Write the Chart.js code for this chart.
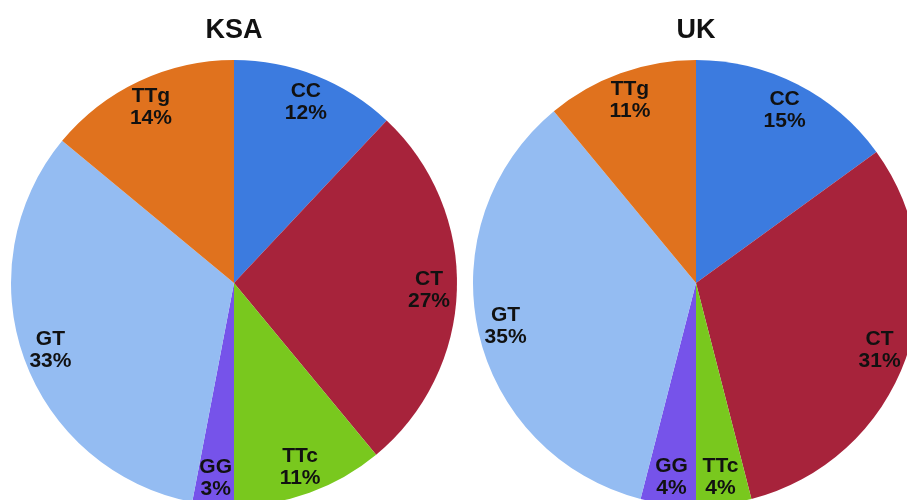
<!DOCTYPE html>
<html>
<head>
<meta charset="utf-8">
<script src="https://cdn.jsdelivr.net/npm/chart.js@4.4.1/dist/chart.umd.min.js"></script>
<style>
  html, body { margin: 0; padding: 0; background: #fff; }
  #wrap { position: relative; width: 907px; height: 500px; overflow: hidden; background: #fff; }
  .box { position: absolute; top: 0; width: 468px; height: 520px; }
</style>
</head>
<body>
<div id="wrap">
  <div class="box" style="left:0px"><canvas id="ksa"></canvas></div>
  <div class="box" style="left:462px"><canvas id="uk"></canvas></div>
</div>
<script>
const genotypes = ["CC", "CT", "TTc", "GG", "GT", "TTg"];
const ksaValues = [12, 27, 11, 3, 33, 14];
const ukValues = [15, 31, 4, 4, 35, 11];
const titles = ["KSA", "UK"];
const sliceColors = ["#3C7BDF", "#A7233B", "#79C81E", "#7653EA", "#94BCF2", "#E0721E"];

const labelPlugin = {
  id: 'sliceLabels',
  afterDatasetsDraw(chart) {
    const ctx = chart.ctx;
    const meta = chart.getDatasetMeta(0);
    const ds = chart.data.datasets[0];
    ctx.save();
    ctx.font = 'bold 21px "Liberation Sans", Arial, sans-serif';
    ctx.fillStyle = '#111';
    ctx.textAlign = 'center';
    ctx.textBaseline = 'middle';
    meta.data.forEach((arc, i) => {
      const p = arc.getProps(['x', 'y', 'startAngle', 'endAngle', 'outerRadius'], true);
      const mid = (p.startAngle + p.endAngle) / 2;
      const r = p.outerRadius * 0.875;
      const x = p.x + Math.cos(mid) * r;
      const y = p.y + Math.sin(mid) * r + 1;
      ctx.fillText(chart.data.labels[i], x, y - 11);
      ctx.fillText(ds.data[i] + '%', x, y + 11);
    });
    ctx.restore();
  }
};

function makePie(id, values, title) {
  new Chart(document.getElementById(id), {
    type: 'pie',
    data: {
      labels: genotypes,
      datasets: [{
        data: values,
        backgroundColor: sliceColors,
        borderWidth: 0,
        clip: false
      }]
    },
    options: {
      responsive: true,
      maintainAspectRatio: false,
      animation: false,
      radius: 223,
      layout: { padding: { left: 11, right: 11, top: 0, bottom: 14 } },
      plugins: {
        legend: { display: false },
        tooltip: { enabled: false },
        title: {
          display: true,
          text: title,
          color: '#111',
          font: { family: '"Liberation Sans", Arial, sans-serif', size: 27, weight: 'bold', lineHeight: 1.2 },
          padding: { top: 14, bottom: 13.6 }
        }
      }
    },
    plugins: [labelPlugin]
  });
}

makePie('ksa', ksaValues, titles[0]);
makePie('uk', ukValues, titles[1]);
</script>
</body>
</html>
